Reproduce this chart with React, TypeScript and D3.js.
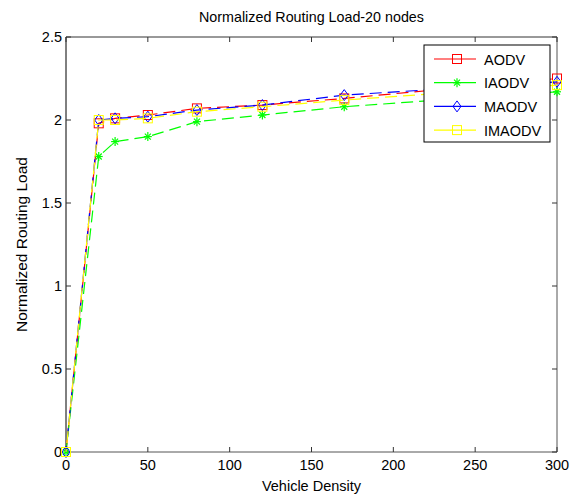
import React from 'react'
import * as d3 from 'd3'

// vehicle density values (x axis)
const density = [0, 20, 30, 50, 80, 120, 170, 300]

const aodv = [0, 1.98, 2.01, 2.03, 2.07, 2.09, 2.13, 2.25]
const iaodv = [0, 1.78, 1.87, 1.9, 1.99, 2.03, 2.08, 2.17]
const maodv = [0, 2.0, 2.01, 2.02, 2.06, 2.09, 2.15, 2.23]
const imaodv = [0, 2.0, 2.0, 2.01, 2.05, 2.08, 2.12, 2.21]

const seriesNames = ['AODV', 'IAODV', 'MAODV', 'IMAODV']
const seriesColors = ['#ff0000', '#00ff00', '#0000ff', '#ffff00']
const seriesMarkers = ['square', 'star', 'diamond', 'square']

const xTicks = [0, 50, 100, 150, 200, 250, 300]
const yTicks = [0, 0.5, 1, 1.5, 2, 2.5]

const W = 570
const H = 495
const margin = { left: 66, top: 37, right: 13, bottom: 43 }
const font = '"Liberation Sans", Arial, sans-serif'

function Marker({ type, x, y, color }: { type: string; x: number; y: number; color: string }) {
  if (type === 'square') {
    return <rect x={x - 4.5} y={y - 4.5} width={9} height={9} fill="none" stroke={color} strokeWidth={1} />
  }
  if (type === 'diamond') {
    return <path d={`M${x},${y - 5.5}L${x + 4},${y}L${x},${y + 5.5}L${x - 4},${y}Z`} fill="none" stroke={color} strokeWidth={1} />
  }
  // asterisk
  return (
    <g stroke={color} strokeWidth={1.2}>
      <line x1={x - 4} y1={y} x2={x + 4} y2={y} />
      <line x1={x} y1={y - 4.5} x2={x} y2={y + 4.5} />
      <line x1={x - 3} y1={y - 3} x2={x + 3} y2={y + 3} />
      <line x1={x - 3} y1={y + 3} x2={x + 3} y2={y - 3} />
    </g>
  )
}

function App() {
  const x = d3.scaleLinear().domain([0, 300]).range([margin.left, W - margin.right])
  const y = d3.scaleLinear().domain([0, 2.5]).range([H - margin.bottom, margin.top])
  const all = [aodv, iaodv, maodv, imaodv]
  const line = d3.line<number>().x((_, i) => x(density[i])).y(d => y(d))

  const x0 = x(0), x1 = x(300), y0 = y(0), y1 = y(2.5)

  return (
    <svg width={W} height={H} style={{ position: 'absolute', left: 0, top: 0, background: '#fff' }}>
      <rect x={0} y={0} width={W} height={H} fill="#fff" />
      <text x={(x0 + x1) / 2} y={22} textAnchor="middle" fontFamily={font} fontSize={14.3}>
        Normalized Routing Load-20 nodes
      </text>

      {/* box */}
      <line x1={x0} y1={y1} x2={x1} y2={y1} stroke="#333" />
      <line x1={x1} y1={y1} x2={x1} y2={y0} stroke="#555" />
      <line x1={x0} y1={y0} x2={x1} y2={y0} stroke="#555" />
      <line x1={x0} y1={y1} x2={x0} y2={y0} stroke="#000" />

      {xTicks.map(t => (
        <g key={'x' + t}>
          <line x1={x(t)} x2={x(t)} y1={y0} y2={y0 - 5} stroke="#333" />
          <line x1={x(t)} x2={x(t)} y1={y1} y2={y1 + 5} stroke="#333" />
          <text x={x(t)} y={y0 + 18} textAnchor="middle" fontFamily={font} fontSize={14.5}>{t}</text>
        </g>
      ))}
      {yTicks.map(t => (
        <g key={'y' + t}>
          <line x1={x0} x2={x0 + 5} y1={y(t)} y2={y(t)} stroke="#333" />
          <line x1={x1} x2={x1 - 5} y1={y(t)} y2={y(t)} stroke="#333" />
          <text x={x0 - 4} y={y(t) + 5} textAnchor="end" fontFamily={font} fontSize={14.5}>{t}</text>
        </g>
      ))}

      <text x={(x0 + x1) / 2} y={H - 4} textAnchor="middle" fontFamily={font} fontSize={14.5}>Vehicle Density</text>
      <text transform={`translate(27,${(y0 + y1) / 2}) rotate(-90)`} textAnchor="middle" fontFamily={font} fontSize={15.5}>
        Normalized Routing Load
      </text>

      {all.map((s, k) => (
        <g key={seriesNames[k]}>
          <path d={line(s) || ''} fill="none" stroke={seriesColors[k]} strokeWidth={1.2} strokeDasharray="12,6" strokeDashoffset={k * 3} />
          {s.map((v, i) => (
            <Marker key={i} type={seriesMarkers[k]} x={x(density[i])} y={y(v)} color={seriesColors[k]} />
          ))}
        </g>
      ))}

      {/* legend */}
      <g>
        <rect x={424} y={45} width={126} height={97} fill="#fff" stroke="#000" />
        {seriesNames.map((n, k) => {
          const ly = 59 + k * 23.7
          return (
            <g key={n}>
              <line x1={434} x2={476} y1={ly} y2={ly} stroke={seriesColors[k]} strokeWidth={1.2} />
              <Marker type={seriesMarkers[k]} x={457} y={ly} color={seriesColors[k]} />
              <text x={484} y={ly + 5.5} fontFamily={font} fontSize={14.5}>{n}</text>
            </g>
          )
        })}
      </g>
    </svg>
  )
}

export default App
